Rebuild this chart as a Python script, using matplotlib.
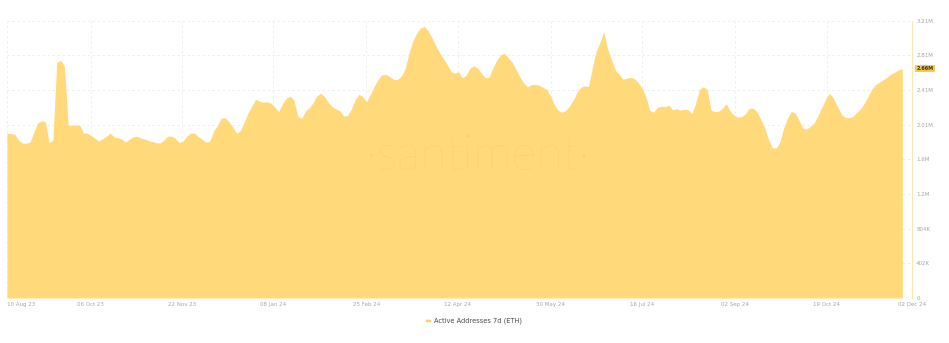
import numpy as np
import pandas as pd
import matplotlib
matplotlib.use("Agg")
import matplotlib.pyplot as plt

# Active Addresses 7d (ETH), thousands (about every 2 days)
values_k = [
    1912, 1906, 1900, 1830, 1796, 1796, 1807, 1923, 2033, 2051,
    2051, 1801, 1830, 2734, 2757, 2688, 2004, 2004, 2004, 2004,
    1912, 1912, 1883, 1854, 1819, 1848, 1877, 1912, 1865, 1859,
    1842, 1807, 1842, 1871, 1877, 1854, 1842, 1825, 1813, 1801,
    1796, 1830, 1877, 1877, 1854, 1801, 1819, 1877, 1912, 1912,
    1871, 1842, 1807, 1819, 1935, 2004, 2085, 2091, 2045, 1981,
    1912, 1940, 2039, 2149, 2224, 2305, 2282, 2271, 2276, 2259,
    2213, 2161, 2253, 2317, 2340, 2294, 2108, 2085, 2166, 2207,
    2265, 2346, 2375, 2334, 2265, 2219, 2190, 2172, 2108, 2120,
    2190, 2300, 2363, 2334, 2276, 2363, 2456, 2537, 2589, 2595,
    2566, 2537, 2531, 2572, 2653, 2827, 2977, 3064, 3128, 3151,
    3105, 3024, 2931, 2850, 2780, 2711, 2630, 2607, 2624, 2554,
    2583, 2665, 2694, 2665, 2607, 2554, 2560, 2670, 2757, 2821,
    2838, 2786, 2734, 2653, 2566, 2497, 2450, 2473, 2479, 2468,
    2444, 2421, 2346, 2247, 2178, 2155, 2172, 2224, 2294, 2387,
    2444, 2462, 2450, 2676, 2861, 2966, 3087, 2885, 2763, 2641,
    2595, 2537, 2549, 2560, 2543, 2497, 2433, 2334, 2172, 2155,
    2213, 2224, 2219, 2236, 2184, 2195, 2178, 2190, 2184, 2137,
    2259, 2421, 2450, 2421, 2178, 2161, 2166, 2201, 2253, 2166,
    2120, 2097, 2103, 2137, 2201, 2201, 2161, 2074, 1975, 1842,
    1744, 1738, 1807, 1969, 2085, 2166, 2143, 2062, 1969, 1958,
    1993, 2033, 2120, 2213, 2311, 2375, 2317, 2224, 2137, 2097,
    2091, 2103, 2149, 2190, 2253, 2334, 2421, 2473, 2502, 2531,
    2560, 2595, 2618, 2645, 2660,
]
dates = pd.date_range("2023-08-24", "2024-11-27", periods=len(values_k))
values = np.array(values_k) * 1000

x_tick_dates = ["2023-08-24", "2023-10-06", "2023-11-22", "2024-01-08", "2024-02-25",
                "2024-04-12", "2024-05-30", "2024-07-16", "2024-09-02", "2024-10-19",
                "2024-12-02"]
x_tick_labels = ["10 Aug 23", "06 Oct 23", "22 Nov 23", "08 Jan 24", "25 Feb 24",
                 "12 Apr 24", "30 May 24", "16 Jul 24", "02 Sep 24", "19 Oct 24",
                 "02 Dec 24"]
y_ticks = [0, 402000, 804000, 1206000, 1608000, 2010000, 2412000, 2814000, 3216000]
y_tick_labels = ["0", "402K", "804K", "1.2M", "1.6M", "2.01M", "2.41M", "2.81M", "3.21M"]
last_label = "2.66M"
series_name = "Active Addresses 7d (ETH)"

fill_col = "#FFD97A"
grey = "#A3A6AB"

fig = plt.figure(figsize=(9.49, 3.43), dpi=100)
ax = fig.add_axes([7 / 949, 45 / 343, 905 / 949, 277.3 / 343])

ax.fill_between(dates, 0, values, color=fill_col, linewidth=0, zorder=2)

ax.set_ylim(0, y_ticks[-1])
ax.set_xlim(pd.Timestamp("2023-08-24"), pd.Timestamp("2024-12-02"))

ax.yaxis.tick_right()
ax.set_yticks(y_ticks)
ax.set_yticklabels(y_tick_labels, fontsize=4, color=grey)
ax.tick_params(axis="y", length=0, pad=3)

ax.set_xticks(pd.to_datetime(x_tick_dates))
ax.set_xticklabels(x_tick_labels, fontsize=4, color=grey)
ax.tick_params(axis="x", length=0, pad=3)
lbls = ax.get_xticklabels()
lbls[0].set_horizontalalignment("left")

ax.grid(True, color="#ECECEC", linestyle=(0, (3, 3)), linewidth=0.6, zorder=0)
ax.set_axisbelow(True)

for s in ["top", "left", "bottom"]:
    ax.spines[s].set_visible(False)
ax.spines["right"].set_color("#FBE7B0")
ax.spines["right"].set_linewidth(0.8)

# current value tag
ax.annotate(last_label, xy=(1.0, values[-1]), xycoords=("axes fraction", "data"),
            xytext=(3, 0), textcoords="offset points", fontsize=3.6, color="#3B3320",
            fontweight="bold", va="center", ha="left",
            bbox=dict(boxstyle="square,pad=0.25", fc="#F8C94A", ec="none"))

# watermark
ax.text(0.52, 0.51, "·santiment·", transform=ax.transAxes, fontsize=35,
        family="Lato", fontweight="light", color="#E5B445", alpha=0.25,
        ha="center", va="center", zorder=3)

# legend
fig.text(434 / 949, 1 - 321 / 343, series_name, fontsize=4.8, color="#4A4A4A",
         va="center", ha="left")
fig.patches.append(plt.Circle((428.5 / 949, 1 - 321 / 343), 0.0022,
                              transform=fig.transFigure, color="#FFD35C",
                              figure=fig))

fig.savefig("out.png", dpi=100)
